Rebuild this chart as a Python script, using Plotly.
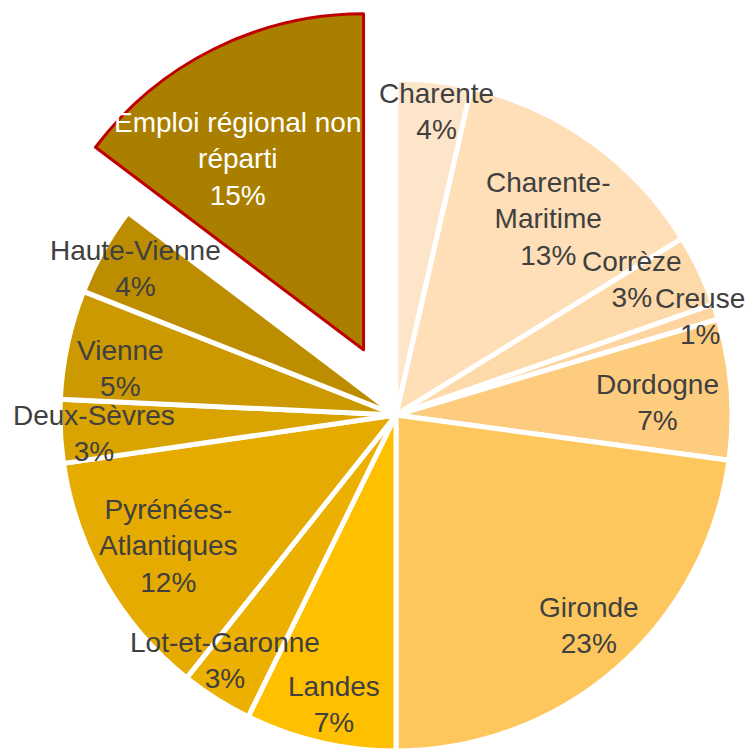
import math
import plotly.graph_objects as go

# ---------------- data ----------------
departements = [
    "Charente", "Charente-Maritime", "Corrèze", "Creuse", "Dordogne", "Gironde",
    "Landes", "Lot-et-Garonne", "Pyrénées-Atlantiques", "Deux-Sèvres", "Vienne",
    "Haute-Vienne", "Emploi régional non réparti",
]
label_text = [
    "Charente", "Charente-<br>Maritime", "Corrèze", "Creuse", "Dordogne", "Gironde",
    "Landes", "Lot-et-Garonne", "Pyrénées-<br>Atlantiques", "Deux-Sèvres", "Vienne",
    "Haute-Vienne", "Emploi régional non<br>réparti",
]
parts = [3.6, 12.6, 3.45, 0.75, 6.75, 22.85, 7.25, 3.45, 12.0, 3.05, 5.25, 4.3, 14.7]
exploded = "Emploi régional non réparti"

# ---------------- styles ----------------
colors = [
    "#FDE5C9", "#FEDFB8", "#FED9AA", "#FED4A0", "#FECC7E", "#FEC75D",
    "#FFC000", "#EBB000", "#E5AB00", "#D9A300", "#CC9900", "#BC8D00", "#AA7F00",
]
label_r = [0.91, 0.74, 0.81, 0.95, 0.78, 0.85, 0.88, 0.89, 0.78, 0.90, 0.83, 0.89, 0.68]
label_da = [1.1, 2.2, -4.3, 0.0, 1.6, -1.5, -1.0, 2.6, 0.0, -0.7, -2.6, 0.0, -7.0]

W, H = 747, 751
R = 336          # pie radius, px
CX, CY = 396, 415  # pie centre, px from top-left
PULL = 0.2167    # explode distance, fraction of radius
FONT = "Liberation Sans, Arial, sans-serif"
FONT_SIZE = 28
TEXT_COLOR = "#404040"

total = sum(parts)
idx_ex = departements.index(exploded)

# cumulative mid-angles (clockwise from 12 o'clock)
mids = []
acc = 0.0
for v in parts:
    mids.append((acc + v / 2) / total * 360.0)
    acc += v

# centre of exploded slice
th = math.radians(mids[idx_ex])
ECX = CX + PULL * R * math.sin(th)
ECY = CY - PULL * R * math.cos(th)


def domain(cx, cy):
    return dict(x=[(cx - R) / W, (cx + R) / W],
                y=[(H - cy - R) / H, (H - cy + R) / H])


clear = "rgba(0,0,0,0)"
main_colors = [clear if d == exploded else c for d, c in zip(departements, colors)]
main_lw = [0 if d == exploded else 5 for d in departements]
ex_colors = [c if d == exploded else clear for d, c in zip(departements, colors)]
ex_lw = [3 if d == exploded else 0 for d in departements]

fig = go.Figure()
fig.add_trace(go.Pie(
    labels=departements, values=parts, sort=False, direction="clockwise",
    rotation=0, textinfo="none", hoverinfo="label+percent",
    marker=dict(colors=main_colors, line=dict(color="white", width=main_lw)),
    domain=domain(CX, CY), showlegend=False,
))
fig.add_trace(go.Pie(
    labels=departements, values=parts, sort=False, direction="clockwise",
    rotation=0, textinfo="none", hoverinfo="label+percent",
    marker=dict(colors=ex_colors, line=dict(color="#C00000", width=ex_lw)),
    domain=domain(ECX, ECY), showlegend=False,
))

annotations = []
for i, d in enumerate(departements):
    cx, cy = (ECX, ECY) if d == exploded else (CX, CY)
    a = math.radians(mids[i] + label_da[i])
    px = cx + label_r[i] * R * math.sin(a)
    py = cy - label_r[i] * R * math.cos(a)
    pct = round(parts[i] / total * 100)
    annotations.append(dict(
        x=px / W, y=1 - py / H, xref="paper", yref="paper",
        xanchor="center", yanchor="middle", showarrow=False,
        text=f"{label_text[i]}<br>{pct}%",
        font=dict(family=FONT, size=FONT_SIZE,
                  color="white" if d == exploded else TEXT_COLOR),
    ))

fig.update_layout(
    width=W, height=H,
    margin=dict(l=0, r=0, t=0, b=0),
    paper_bgcolor="white", plot_bgcolor="white",
    showlegend=False,
    annotations=annotations,
)

fig.write_html(
    "out.html",
    config={"displayModeBar": False},
    post_script="document.body.style.margin='0';document.body.style.overflow='hidden';",
)
